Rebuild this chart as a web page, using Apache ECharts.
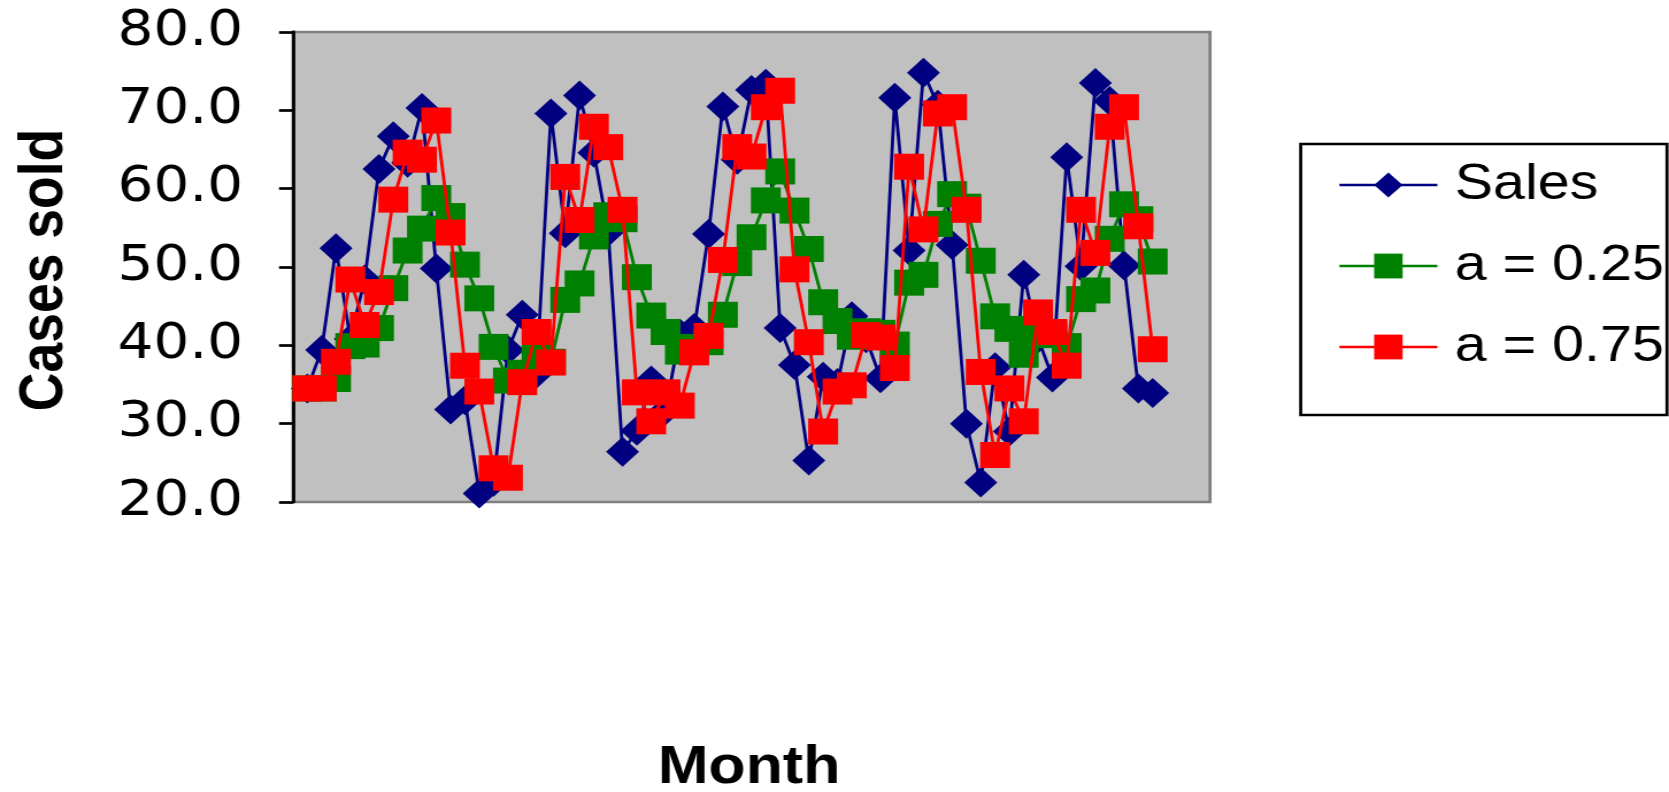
<!DOCTYPE html>
<html>
<head>
<meta charset="utf-8">
<title>Cases sold</title>
<script src="https://cdn.jsdelivr.net/npm/echarts@6/dist/echarts.min.js"></script>
<style>
  html, body { margin: 0; padding: 0; background: #ffffff; overflow: hidden; }
  #stage { width: 1669px; height: 792px; overflow: hidden; }
  /* the chart is laid out on a narrower canvas and widened, giving the stretched look of the original sheet chart */
  #chart { width: 1452px; height: 792px; transform: scaleX(1.14945); transform-origin: 0 0; }
</style>
</head>
<body>
<div id="stage"><div id="chart"></div></div>
<script>
// Month index of each observation
const months = Array.from({ length: 60 }, (_, i) => i + 1);

// Monthly cases sold
const sales = [
  34.5, 39.4, 52.4, 40.8, 48.4, 62.5, 66.7, 63.3, 70.3, 49.8,
  31.8, 33.0, 21.1, 22.6, 39.4, 43.9, 36.4, 69.6, 54.3, 71.9,
  64.6, 54.5, 26.4, 29.1, 35.5, 31.7, 41.5, 42.2, 54.2, 70.5,
  63.7, 72.6, 73.4, 42.2, 37.5, 25.3, 36.0, 35.2, 43.7, 40.9,
  35.8, 71.6, 52.1, 74.8, 70.7, 52.8, 30.0, 22.5, 37.2, 29.0,
  49.0, 40.9, 35.9, 64.0, 50.1, 73.5, 71.2, 50.2, 34.5, 33.9
];

// Exponentially smoothed forecast, a = 0.25
const smoothA25 = [
  34.5, 34.5, 35.7, 39.9, 40.1, 42.2, 47.3, 52.1, 54.9, 58.8,
  56.5, 50.3, 46.0, 39.8, 35.5, 36.5, 38.4, 37.9, 45.8, 47.9,
  53.9, 56.6, 56.1, 48.7, 43.8, 41.7, 39.2, 39.8, 40.4, 43.9,
  50.5, 53.8, 58.5, 62.2, 57.2, 52.3, 45.5, 43.1, 41.1, 41.8,
  41.6, 40.1, 48.0, 49.0, 55.5, 59.3, 57.7, 50.8, 43.7, 42.1,
  38.8, 41.4, 41.3, 39.9, 45.9, 47.0, 53.6, 58.0, 56.1, 50.7
];

// Exponentially smoothed forecast, a = 0.75
const smoothA75 = [
  34.5, 34.5, 37.9, 48.4, 42.6, 46.8, 58.6, 64.6, 63.7, 68.7,
  54.4, 37.4, 34.1, 24.3, 23.1, 35.3, 41.7, 37.8, 61.5, 56.0,
  67.9, 65.3, 57.3, 34.0, 30.3, 34.0, 32.3, 39.1, 41.2, 50.9,
  65.3, 64.1, 70.4, 72.5, 49.7, 40.4, 29.0, 34.1, 34.9, 41.3,
  41.0, 37.1, 62.8, 54.8, 69.6, 70.4, 57.3, 36.6, 26.0, 34.5,
  30.3, 44.2, 41.7, 37.4, 57.3, 51.8, 67.9, 70.4, 55.2, 39.5
];

// Vertical axis ticks
const yTicks = [20, 30, 40, 50, 60, 70, 80];

const seriesNames = ['Sales', 'a = 0.25', 'a = 0.75'];
const seriesColors = ['#000080', '#008000', '#FF0000'];

// horizontal widening applied by the stylesheet
const K = 1669 / 1452;
const fx = px => px / K;

const FONT = '"Liberation Sans", Arial, Helvetica, sans-serif';
const TICK_FONT = '"DejaVu Sans", "Liberation Sans", Arial, sans-serif';

const pairs = values => values.map((v, i) => [months[i], v]);

const chart = echarts.init(document.getElementById('chart'), null, { renderer: 'canvas' });

chart.setOption({
  animation: false,
  backgroundColor: '#ffffff',
  grid: {
    left: fx(293), top: 32, width: fx(917), height: 470,
    show: true,
    backgroundColor: '#C0C0C0',
    borderColor: '#808080',
    borderWidth: 2.7
  },
  xAxis: {
    type: 'value',
    min: 0,
    max: 64,
    show: false
  },
  yAxis: {
    type: 'value',
    min: yTicks[0],
    max: yTicks[yTicks.length - 1],
    interval: yTicks[1] - yTicks[0],
    axisLine: { show: true, lineStyle: { color: '#000000', width: 2.8 } },
    axisTick: { show: true, inside: false, length: fx(14), lineStyle: { color: '#000000', width: 2.7 } },
    axisLabel: {
      margin: fx(50),
      color: '#000000',
      fontFamily: TICK_FONT,
      fontSize: 49,
      formatter: v => v.toFixed(1)
    },
    splitLine: { show: false }
  },
  legend: {
    orient: 'vertical',
    left: fx(1338),
    top: 160,
    itemWidth: fx(98),
    itemHeight: 31,
    itemGap: 31,
    padding: 0,
    lineStyle: { width: 2.4 },
    textStyle: {
      color: '#000000',
      fontFamily: FONT,
      fontSize: 50,
      lineHeight: 50,
      padding: [0, 0, 0, 10]
    },
    data: seriesNames
  },
  graphic: [
    {
      type: 'rect',
      shape: { x: fx(1300.7), y: 144, width: fx(1667) - fx(1300.7), height: 271 },
      style: { fill: '#ffffff', stroke: '#000000', lineWidth: 2.7 },
      z: -1
    },
    {
      type: 'text',
      x: fx(45),
      y: 270,
      rotation: Math.PI / 2,
      style: {
        text: 'Cases sold',
        fontFamily: FONT,
        fontWeight: 'bold',
        fontSize: 53.5,
        fill: '#000000',
        align: 'center',
        verticalAlign: 'middle'
      }
    },
    {
      type: 'text',
      x: fx(749),
      y: 768,
      style: {
        text: 'Month',
        fontFamily: FONT,
        fontWeight: 'bold',
        fontSize: 53,
        fill: '#000000',
        align: 'center',
        verticalAlign: 'middle'
      }
    }
  ],
  series: [
    {
      name: seriesNames[0],
      type: 'line',
      data: pairs(sales),
      symbol: 'diamond',
      symbolSize: [28.7, 30],
      itemStyle: { color: seriesColors[0] },
      lineStyle: { color: seriesColors[0], width: 2.8 },
      z: 2
    },
    {
      name: seriesNames[1],
      type: 'line',
      data: pairs(smoothA25),
      symbol: 'rect',
      symbolSize: [26, 26],
      itemStyle: { color: seriesColors[1] },
      lineStyle: { color: seriesColors[1], width: 2.8 },
      z: 3
    },
    {
      name: seriesNames[2],
      type: 'line',
      data: pairs(smoothA75),
      symbol: 'rect',
      symbolSize: [26, 26],
      itemStyle: { color: seriesColors[2] },
      lineStyle: { color: seriesColors[2], width: 2.8 },
      z: 4
    }
  ]
});
</script>
</body>
</html>
